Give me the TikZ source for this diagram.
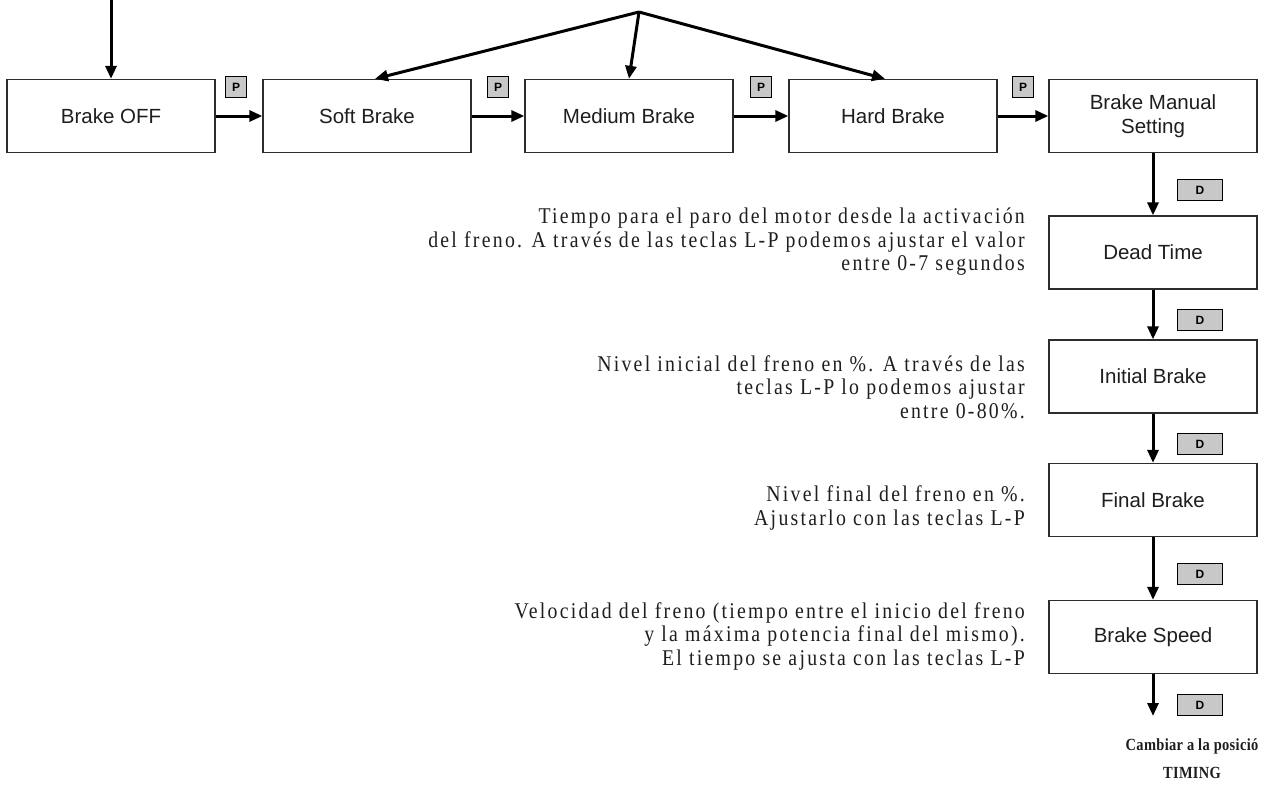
\documentclass[tikz,border=0pt]{standalone}
\usepackage{fontspec}
\setmainfont{Liberation Serif}
\setsansfont{Liberation Sans}
\newfontfamily\notefont[LetterSpace=10,FakeStretch=0.88]{Liberation Serif}
\newfontfamily\endfont[LetterSpace=2,FakeStretch=0.85]{Liberation Serif}
\usetikzlibrary{arrows.meta}
\definecolor{brakecolor0001}{RGB}{200,200,200}
\definecolor{brakecolor0002}{RGB}{45,45,45}
\definecolor{brakecolor0003}{RGB}{30,30,30}
\begin{document}
\begin{tikzpicture}[x=1pt,y=1pt,yscale=-1
,bstyle0/.style={draw=brakecolor0002,fill=white,line width=1.3pt,minimum width=208pt,minimum height=73pt,inner sep=0,align=center,font=\sffamily\fontsize{20.5}{24}\selectfont,text=brakecolor0003}
,kstyle0/.style={draw=black,fill=brakecolor0001,line width=1pt,minimum width=21pt,minimum height=21pt,inner sep=0,font=\sffamily\bfseries\fontsize{12}{14}\selectfont}
,kstyle1/.style={kstyle0,minimum width=45pt}
,nstyle0/.style={anchor=east,align=right,inner sep=0,text=brakecolor0003,font=\notefont\fontsize{22.5}{23.5}\selectfont}
,astyle0/.style={draw=black,line width=3pt,-{Triangle[length=13pt,width=11pt]}}
]
\useasboundingbox (0,0) rectangle (1261,792);
% top row
\node[bstyle0] (off) at (111,116) {Brake OFF};
\node[bstyle0] (soft) at (367,116) {Soft Brake};
\node[bstyle0] (medium) at (629,116) {Medium Brake};
\node[bstyle0] (hard) at (893,116) {Hard Brake};
\node[bstyle0] (manual) at (1153,116) {Brake Manual\\Setting};
\node[kstyle0] (p1) at (236,87) {P};
\node[kstyle0] (p2) at (498,87) {P};
\node[kstyle0] (p3) at (761,87) {P};
\node[kstyle0] (p4) at (1023,87) {P};
\coordinate (entry) at (111,0);
\coordinate (apex) at (639,12);
\draw[astyle0] (entry) -- (off.north);
\draw[astyle0] (apex) -- ([xshift=8pt]soft.north);
\draw[astyle0] (apex) -- (medium.north);
\draw[astyle0] (apex) -- ([xshift=-8pt]hard.north);
\draw[astyle0] (off) -- (soft);
\draw[astyle0] (soft) -- (medium);
\draw[astyle0] (medium) -- (hard);
\draw[astyle0] (hard) -- (manual);
% manual setting column
\node[bstyle0] (dead) at (1153,252.5) {Dead Time};
\node[bstyle0] (initial) at (1153,376.5) {Initial Brake};
\node[bstyle0] (final) at (1153,500) {Final Brake};
\node[bstyle0] (speed) at (1153,637) {Brake Speed};
\node[kstyle1] (d1) at (1200,190) {D};
\node[kstyle1] (d2) at (1200,320) {D};
\node[kstyle1] (d3) at (1200,444) {D};
\node[kstyle1] (d4) at (1200,574) {D};
\node[kstyle1] (d5) at (1200,705) {D};
\coordinate (exit) at (1153,716);
\draw[astyle0] (manual) -- (dead);
\draw[astyle0] (dead) -- (initial);
\draw[astyle0] (initial) -- (final);
\draw[astyle0] (final) -- (speed);
\draw[astyle0] (speed) -- (exit);
% notes
\node[nstyle0] (n1) at (1025,242) {Tiempo para el paro del motor desde la activación\\del freno. A través de las teclas L-P podemos ajustar el valor\\entre 0-7 segundos};
\node[nstyle0] (n2) at (1025,387) {Nivel inicial del freno en \%. A través de las\\teclas L-P lo podemos ajustar\\entre 0-80\%.};
\node[nstyle0] (n3) at (1025,508) {Nivel final del freno en \%.\\Ajustarlo con las teclas L-P};
\node[nstyle0] (n4) at (1025,636) {Velocidad del freno (tiempo entre el inicio del freno\\y la máxima potencia final del mismo).\\El tiempo se ajusta con las teclas L-P};
\node[align=center,inner sep=0,text=brakecolor0003,font=\endfont\bfseries\fontsize{17}{28}\selectfont] (timing) at (1192,759) {Cambiar a la posició\\TIMING};
\end{tikzpicture}
\end{document}
